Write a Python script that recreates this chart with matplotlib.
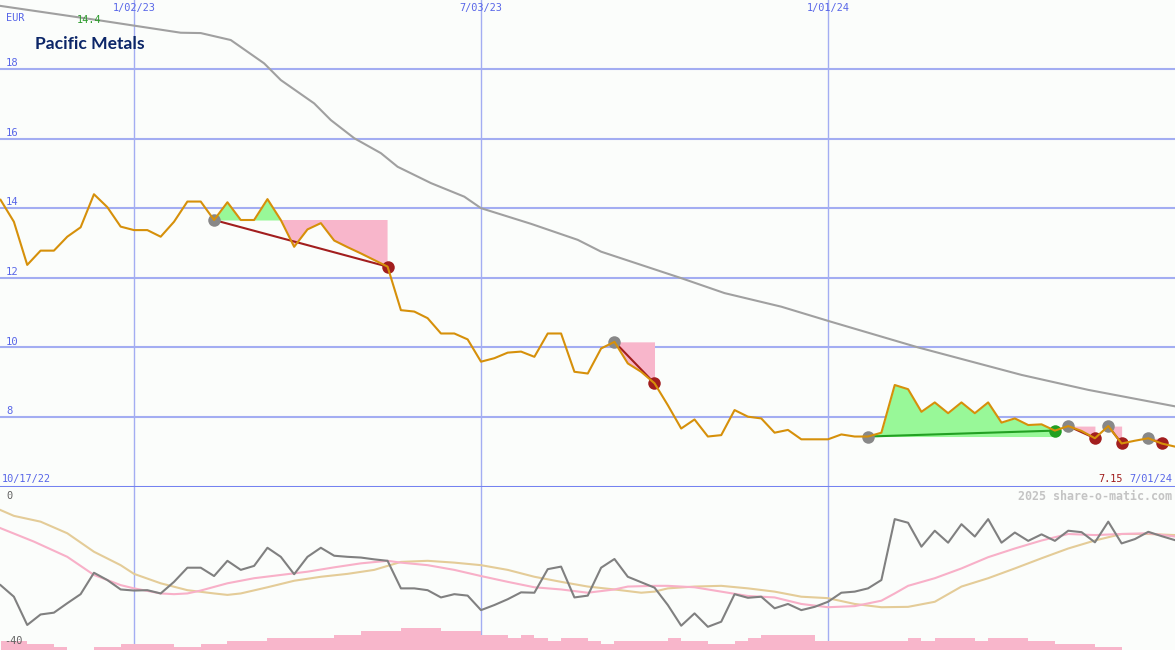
import numpy as np
import matplotlib.pyplot as plt
from matplotlib.transforms import blended_transform_factory as blend

# weekly closing prices, starting 10/24/22
price = [14.24, 13.61, 12.37, 12.78, 12.78, 13.18, 13.45, 14.40, 14.03, 13.47,
         13.37, 13.37, 13.18, 13.61, 14.19, 14.19, 13.66, 14.17, 13.66, 13.66,
         14.26, 13.66, 12.89, 13.39, 13.57, 13.07, 12.88, 12.70, 12.51, 12.32,
         11.07, 11.03, 10.84, 10.40, 10.40, 10.23, 9.59, 9.69, 9.85, 9.88,
         9.73, 10.40, 10.40, 9.30, 9.25, 9.97, 10.16, 9.54, 9.30, 8.97,
         8.34, 7.67, 7.93, 7.44, 7.48, 8.20, 8.01, 7.96, 7.55, 7.63,
         7.36, 7.36, 7.36, 7.50, 7.44, 7.44, 7.55, 8.92, 8.80, 8.15,
         8.42, 8.11, 8.42, 8.11, 8.42, 7.84, 7.96, 7.77, 7.79, 7.61,
         7.74, 7.60, 7.39, 7.74, 7.24, 7.32, 7.39, 7.24, 7.15]

# long moving average of the price (week, value)
ma_wk = [0, 7.5, 13.5, 15, 17.25, 19.75, 21, 23.5, 24.75, 26.5, 28.5, 29.75, 32.25,
         34.75, 36, 39.75, 43.25, 45, 51, 54.25, 58.5, 62.2, 68.75, 76.5, 81.5, 88.1]
ma_val = [19.81, 19.39, 19.04, 19.03, 18.83, 18.16, 17.68, 17.01, 16.53, 16.01, 15.58,
          15.19, 14.72, 14.33, 14.00, 13.55, 13.09, 12.75, 11.99, 11.56, 11.17, 10.74,
          10.00, 9.21, 8.78, 8.30]

# trend segments: start week, end week
trend_start = [16, 46, 65, 80, 83, 86]
trend_end = [29, 49, 79, 82, 84, 87]

# lower panel: relative strength and its two averages
osc = [-23.2, -26.4, -34.2, -31.3, -30.8, -28.2, -25.7, -19.8, -21.8, -24.4,
       -24.7, -24.6, -25.5, -22.3, -18.4, -18.4, -20.7, -16.5, -19.0, -17.9,
       -12.9, -15.4, -20.2, -15.4, -12.9, -15.1, -15.4, -15.6, -16.1, -16.5,
       -24.1, -24.1, -24.6, -26.6, -25.7, -26.1, -30.1, -28.7, -27.1, -25.2,
       -25.3, -18.8, -18.1, -26.6, -26.1, -18.4, -16.0, -20.9, -22.4, -23.9,
       -28.7, -34.4, -31.0, -34.7, -33.3, -25.7, -26.7, -26.4, -29.6, -28.4,
       -30.1, -29.2, -27.8, -25.3, -25.0, -24.1, -21.8, -5.0, -6.0, -12.6,
       -8.2, -11.5, -6.4, -9.8, -5.0, -11.5, -8.7, -11.0, -9.2, -11.0,
       -8.2, -8.6, -11.4, -5.7, -11.7, -10.5, -8.5, -9.7, -10.8]

pink_wk = [0, 2.5, 5, 7, 9, 10, 12, 13, 14, 15, 17, 19, 21, 23, 25, 27, 29, 30, 32, 34,
           36, 38, 40, 42, 44, 46, 47, 49, 50, 52, 54, 56, 58, 60, 62, 64, 66, 67, 68,
           70, 72, 74, 76, 78, 80, 82, 84, 86, 88]
pink_val = [-7.5, -11.2, -15.4, -20.4, -23.2, -24.1, -25.5, -25.7, -25.5, -24.7, -22.7,
            -21.3, -20.4, -19.5, -18.3, -17.2, -16.5, -17.0, -17.7, -19.0, -20.7, -22.3,
            -23.8, -24.4, -25.3, -24.4, -23.6, -23.4, -23.4, -23.8, -25.0, -26.2, -26.6,
            -28.4, -29.3, -29.0, -27.5, -25.5, -23.4, -21.3, -18.6, -15.5, -13.1, -10.9,
            -9.1, -9.4, -9.1, -8.9, -9.8]

tan_wk = [0, 1, 3, 5, 7, 9, 10, 12, 14, 16, 17, 18, 20, 22, 24, 26, 28, 30, 32, 34, 36,
          38, 40, 42, 44, 46, 48, 49, 50, 52, 54, 56, 58, 60, 62, 64, 66, 68, 70, 72, 74,
          76, 78, 80, 82, 84, 86, 88]
tan_val = [-2.5, -4.1, -5.7, -8.9, -14.0, -17.7, -20.1, -22.7, -24.6, -25.5, -25.9,
           -25.5, -23.8, -22.0, -20.9, -20.1, -19.0, -16.8, -16.5, -17.0, -17.7, -19.0,
           -20.9, -22.3, -23.6, -24.4, -25.3, -25.0, -24.1, -23.6, -23.4, -24.1, -25.0,
           -26.4, -26.8, -28.4, -29.3, -29.2, -27.8, -23.6, -21.3, -18.6, -15.8, -13.1,
           -10.9, -9.1, -9.1, -9.4]

# volume (relative)
volume = [9, 9, 6, 6, 2.7, 0, 0, 2.7, 2.7, 6,
          6, 6, 6, 2.7, 2.7, 6, 6, 9, 9, 9,
          12, 12, 12, 12, 12, 15, 15, 19, 19, 19,
          22.3, 22.3, 22.3, 19, 19, 19, 15, 15, 12, 15,
          12, 9, 12, 12, 9, 6, 9, 9, 9, 9,
          12, 9, 9, 6, 6, 9, 12, 15, 15, 15,
          15, 9, 9, 9, 9, 9, 9, 9, 12, 9,
          12, 12, 12, 9, 12, 12, 12, 9, 9, 6,
          6, 6, 2.7, 2.7, 0, 0, 0, 0, 0]

date_wk = [10, 36, 62]
date_lbl = ['1/02/23', '7/03/23', '1/01/24']
price_ticks = [8, 10, 12, 14, 16, 18]

BG = '#fbfdfb'
GRID = '#a3adf2'
BLUE = '#5866e8'
MONO = 'DejaVu Sans Mono'
W, H = 1175, 650

weeks = np.arange(len(price))
price = np.array(price)

fig = plt.figure(figsize=(W / 100, H / 100), dpi=100, facecolor=BG)
ax = fig.add_axes([0, 163 / H, 1, 487 / H], facecolor=BG)
axv = fig.add_axes([0, 0, 1, 163 / H], facecolor=BG)
axo = axv.twinx()

for a in (ax, axv, axo):
    a.set_xlim(-0.04, 88.0)
    a.set_xticks([])
    a.set_yticks([])
    for s in a.spines.values():
        s.set_visible(False)

ax.set_ylim(5.99, 19.98)
axv.set_ylim(0, 163)
axo.set_ylim(-41.1, 3.86)

# grid
for v in price_ticks:
    ax.axhline(v, color=GRID, lw=1.5, zorder=1)
for w in date_wk:
    ax.axvline(w, color=GRID, lw=1.0, zorder=1)
    axv.axvline(w, color=GRID, lw=1.0, zorder=1)
ax.spines['bottom'].set_visible(True)
ax.spines['bottom'].set_color('#7482f0')
ax.spines['bottom'].set_linewidth(2.2)

# moving average
ax.plot(ma_wk, ma_val, color='#a0a0a0', lw=1.5, zorder=2)

# trend segments
for s, e in zip(trend_start, trend_end):
    xs = weeks[s:e + 1]
    ys = price[s:e + 1]
    lvl = price[s]
    ax.fill_between(xs, ys, lvl, where=ys >= lvl, interpolate=True,
                    color='#98f898', lw=0, zorder=3)
    ax.fill_between(xs, ys, lvl, where=ys <= lvl, interpolate=True,
                    color='#f8b6cb', lw=0, zorder=3)
    up = price[e] > lvl
    c = '#22a022' if up else '#a21e1e'
    ax.plot([s, e], [price[s], price[e]], color=c, lw=1.5, zorder=4)
    ax.plot(s, price[s], 'o', ms=9, color='#888888', mec='none', zorder=5)
    ax.plot(e, price[e], 'o', ms=9, color=c, mec='none', zorder=5)

ax.plot(weeks, price, color='#d6900a', lw=1.5, zorder=6)

# lower panel
axv.bar(weeks, volume, width=1.0, align='edge', color='#f8b6cb', lw=0, zorder=2)
axo.plot(tan_wk, tan_val, color='#e4cc98', lw=1.5, zorder=3)
axo.plot(pink_wk, pink_val, color='#f8b0c8', lw=1.5, zorder=3)
axo.plot(weeks, osc, color='#808080', lw=1.5, zorder=4)

# labels
ty = blend(ax.transAxes, ax.transData)
for v in price_ticks:
    ax.text(6 / W, v + 0.02, str(v), transform=ty, ha='left', va='bottom',
            color=BLUE, fontsize=7.6, family=MONO)
tx = blend(ax.transData, ax.transAxes)
for w, lbl in zip(date_wk, date_lbl):
    ax.text(w, 1 - 8 / 487, lbl, transform=tx, ha='center', va='center',
            color=BLUE, fontsize=7.4, family=MONO)

fig.text(6 / W, 1 - 18 / H, 'EUR', ha='left', va='center', color=BLUE,
         fontsize=7.4, family=MONO)
fig.text(77 / W, 1 - 20 / H, f'{price.max():.1f}', ha='left', va='center',
         color='#2c9c2c', fontsize=7.4, family=MONO)
fig.text(35 / W, 1 - 44 / H, 'Pacific Metals', ha='left', va='center',
         color='#0c2668', fontsize=12.6, family='Lato', fontweight='bold')
fig.text(2 / W, 1 - 479 / H, '10/17/22', ha='left', va='center', color=BLUE,
         fontsize=7.4, family=MONO)
fig.text(1123 / W, 1 - 479 / H, f'{price[-1]:.2f}', ha='right', va='center',
         color='#a01c1c', fontsize=7.4, family=MONO)
fig.text(1172 / W, 1 - 479 / H, '7/01/24', ha='right', va='center', color=BLUE,
         fontsize=7.4, family=MONO)
fig.text(1172 / W, 1 - 496 / H, '2025 share-o-matic.com', ha='right', va='center',
         color='#c4c4c4', fontsize=8.4, family=MONO, fontweight='bold')
fig.text(6 / W, 1 - 496 / H, '0', ha='left', va='center', color='#606060',
         fontsize=7.4, family=MONO)
fig.text(4 / W, 1 - 641 / H, '-40', ha='left', va='center', color='#606060',
         fontsize=7.4, family=MONO)

fig.savefig('out.png', dpi=100, facecolor=BG)
